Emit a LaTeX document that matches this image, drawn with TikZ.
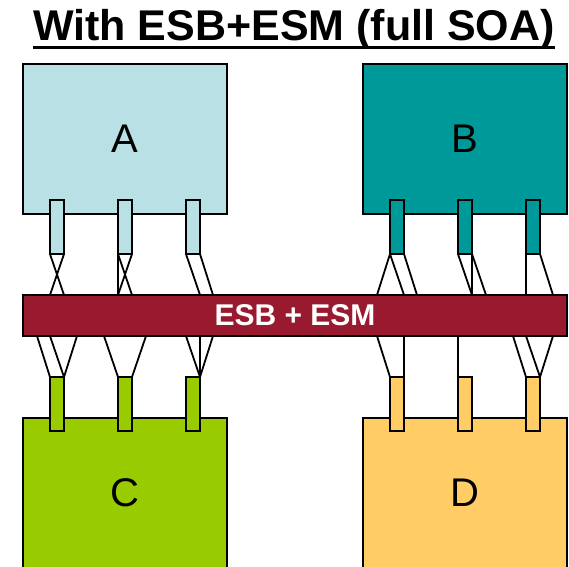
\documentclass[tikz,border=0pt]{standalone}
\usepackage{fontspec}
\setmainfont{Liberation Sans}
\usetikzlibrary{calc}
\definecolor{aC}{HTML}{B9E0E4}
\definecolor{bC}{HTML}{009999}
\definecolor{cC}{HTML}{99CC00}
\definecolor{dC}{HTML}{FFCC66}
\definecolor{barC}{HTML}{991A2E}
\tikzset{
  sysbox/.style={draw=black, line width=1.6pt, rectangle, inner sep=0pt, outer sep=0pt,
    minimum width=204pt, minimum height=150pt, font=\fontsize{40}{44}\selectfont},
  prong/.style={draw=black, line width=1.6pt, rectangle, inner sep=0pt, outer sep=0pt,
    minimum width=14pt, minimum height=54pt},
  busbar/.style={draw=black, line width=1.6pt, fill=barC, rectangle, inner sep=0pt, outer sep=0pt,
    minimum width=544pt, minimum height=41pt, text=white, font=\bfseries\fontsize{30}{34}\selectfont},
  wire/.style={draw=black, line width=1.8pt}
}
\begin{document}
\begin{tikzpicture}[x=1pt,y=-1pt]
\useasboundingbox (0,0) rectangle (569,566);
\clip (0,0) rectangle (569,566);
% title
\node[anchor=base, inner sep=0pt, font=\bfseries\fontsize{43}{50}\selectfont] (title) at (294,40) {With ESB+ESM (full SOA)};
\draw[line width=3pt] ($(title.base west)+(0,7)$) -- ($(title.base east)+(0,7)$);
% boxes
\node[sysbox, fill=aC] (A) at (125,139) {A};
\node[sysbox, fill=bC] (B) at (465,139) {B};
\node[sysbox, fill=cC] (C) at (125,493) {C};
\node[sysbox, fill=dC] (D) at (465,493) {D};
% bus
\node[busbar] (bar) at (295,315.5) {ESB + ESM};
% prongs
\foreach \n/\x in {a1/57,a2/125,a3/193} \node[prong, fill=aC] (\n) at (\x,227) {};
\foreach \n/\x in {b1/397,b2/465,b3/533} \node[prong, fill=bC] (\n) at (\x,227) {};
\foreach \n/\x in {c1/57,c2/125,c3/193} \node[prong, fill=cC] (\n) at (\x,404) {};
\foreach \n/\x in {d1/397,d2/465,d3/533} \node[prong, fill=dC] (\n) at (\x,404) {};
% A wires
\draw[wire] (a1.south west) -- (a1.south east |- bar.north);
\draw[wire] (a1.south east) -- (a1.south west |- bar.north);
\draw[wire] (a2.south west) -- (a2.south west |- bar.north);
\draw[wire] (a2.south west) -- (a2.south east |- bar.north);
\draw[wire] (a2.south east) -- (a2.south west |- bar.north);
\draw[wire] (a3.south west) -- (a3.south east |- bar.north);
\draw[wire] (a3.south east) -- ($(a3.south east |- bar.north)+(13,0)$);
% B wires
\draw[wire] (b1.south west) -- ($(b1.south west |- bar.north)+(-13,0)$);
\draw[wire] (b1.south west) -- (b1.south east |- bar.north);
\draw[wire] (b1.south east) -- ($(b1.south east |- bar.north)+(13,0)$);
\draw[wire] (b2.south west) -- (b2.south east |- bar.north);
\draw[wire] (b2.south east) -- (b2.south east |- bar.north);
\draw[wire] (b2.south east) -- ($(b2.south east |- bar.north)+(14,0)$);
\draw[wire] (b3.south west) -- (b3.south west |- bar.north);
\draw[wire] (b3.south east) -- ($(b3.south east |- bar.north)+(13,0)$);
% C wires
\draw[wire] ($(c1.north west |- bar.south)+(-13,0)$) -- (c1.north west);
\draw[wire] (c1.north west |- bar.south) -- (c1.north east);
\draw[wire] ($(c1.north east |- bar.south)+(13,0)$) -- (c1.north east);
\draw[wire] ($(c2.north west |- bar.south)+(-14,0)$) -- (c2.north west);
\draw[wire] ($(c2.north east |- bar.south)+(14,0)$) -- (c2.north east);
\draw[wire] (c3.north west |- bar.south) -- (c3.north east);
\draw[wire] (c3.north east |- bar.south) -- (c3.north east);
\draw[wire] ($(c3.north east |- bar.south)+(13,0)$) -- (c3.north east);
% D wires
\draw[wire] ($(d1.north west |- bar.south)+(-13,0)$) -- (d1.north west);
\draw[wire] (d1.north east |- bar.south) -- (d1.north east);
\draw[wire] (d2.north west |- bar.south) -- (d2.north west);
\draw[wire] ($(d3.north west |- bar.south)+(-13,0)$) -- (d3.north west);
\draw[wire] (d3.north west |- bar.south) -- (d3.north east);
\draw[wire] ($(d3.north east |- bar.south)+(13,0)$) -- (d3.north east);
\end{tikzpicture}
\end{document}
